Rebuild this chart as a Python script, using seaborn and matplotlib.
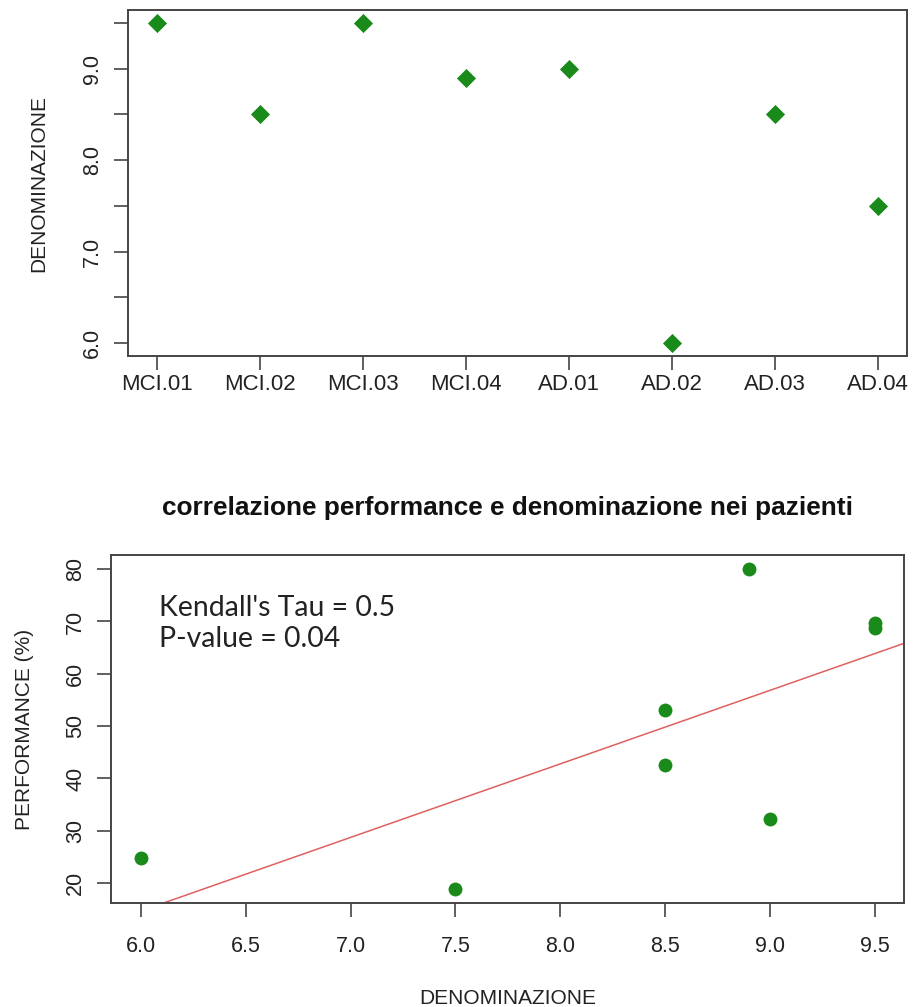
import numpy as np
import pandas as pd
import matplotlib
matplotlib.use("Agg")
import matplotlib.pyplot as plt
import seaborn as sns

# ---- data ----
patients = ["MCI.01", "MCI.02", "MCI.03", "MCI.04", "AD.01", "AD.02", "AD.03", "AD.04"]
denominazione = [9.5, 8.5, 9.5, 8.9, 9.0, 6.0, 8.5, 7.5]
performance = [69.7, 53.1, 68.8, 80.0, 32.2, 24.8, 42.6, 18.8]
y1_ticks = [6.0, 6.5, 7.0, 7.5, 8.0, 8.5, 9.0, 9.5]
y1_labels = ["6.0", "", "7.0", "", "8.0", "", "9.0", ""]
x2_ticks = [6.0, 6.5, 7.0, 7.5, 8.0, 8.5, 9.0, 9.5]
y2_ticks = [20, 30, 40, 50, 60, 70, 80]
title2 = "correlazione performance e denominazione nei pazienti"
stats_text = "Kendall's Tau = 0.5\nP-value = 0.04"

df = pd.DataFrame({"paziente": patients, "den": denominazione, "perf": performance})

sns.set_style("ticks")
plt.rcParams["font.family"] = ["Liberation Sans", "DejaVu Sans"]

W, H = 916, 1007
fig = plt.figure(figsize=(W / 100, H / 100), dpi=100)

green = "#1a8a1a"
frame_col = "#444444"

def px_axes(l, t, r, b):
    return fig.add_axes([l / W, 1 - b / H, (r - l) / W, (b - t) / H])

def style(ax):
    for s in ax.spines.values():
        s.set_visible(True)
        s.set_color(frame_col)
        s.set_linewidth(1.4)
    ax.tick_params(axis="both", direction="out", length=10, width=1.2,
                   bottom=True, left=True, top=False, right=False,
                   color=frame_col, labelsize=15.5, labelcolor="#222222")

# ---- top panel ----
ax1 = px_axes(128, 10, 907, 356)
sns.scatterplot(data=df, x="paziente", y="den", ax=ax1, marker="D", s=95,
                color=green, edgecolor=green, linewidth=0)
ax1.set_xlim(-0.28, 7.28)
ax1.set_ylim(5.86, 9.64)
ax1.set_yticks(y1_ticks)
ax1.set_yticklabels(y1_labels, rotation=90, va="center")
ax1.set_xticks(range(len(patients)))
ax1.set_xticklabels(patients)
ax1.set_xlabel("")
ax1.set_ylabel("DENOMINAZIONE", fontsize=15, color="#222222", labelpad=24)
style(ax1)
ax1.tick_params(axis="x", pad=3, labelsize=16)
ax1.tick_params(axis="y", pad=8)

# ---- bottom panel ----
ax2 = px_axes(111, 555, 904, 903)
sns.scatterplot(data=df, x="den", y="perf", ax=ax2, marker="o", s=100,
                color=green, edgecolor=green, linewidth=0, zorder=3)
ax2.set_xlim(5.857, 9.64)
ax2.set_ylim(16.2, 82.7)
slope, intercept = np.polyfit(df["den"], df["perf"], 1)
ax2.axline((0, intercept), slope=slope, color="#e06060", linewidth=1.1, zorder=2)
ax2.set_xticks(x2_ticks)
ax2.set_xticklabels([f"{v:.1f}" for v in x2_ticks])
ax2.set_yticks(y2_ticks)
ax2.set_yticklabels([str(v) for v in y2_ticks], rotation=90, va="center")
ax2.set_xlabel("DENOMINAZIONE", fontsize=15, color="#222222")
ax2.xaxis.set_label_coords(0.5, -0.247)
ax2.set_ylabel("PERFORMANCE (%)", fontsize=15, color="#222222", labelpad=22.5)
style(ax2)
ax2.tick_params(axis="x", pad=14)
ax2.tick_params(axis="y", pad=8)
ax2.set_title(title2, fontsize=18.9, fontweight="bold", color="#111111", pad=28.5)
ax2.text(0.06, 0.886, stats_text, transform=ax2.transAxes, fontsize=20.4,
         family=["Lato", "DejaVu Sans"], va="top", ha="left", color="#222222",
         linespacing=1.25)

fig.savefig("out.png", dpi=100)
